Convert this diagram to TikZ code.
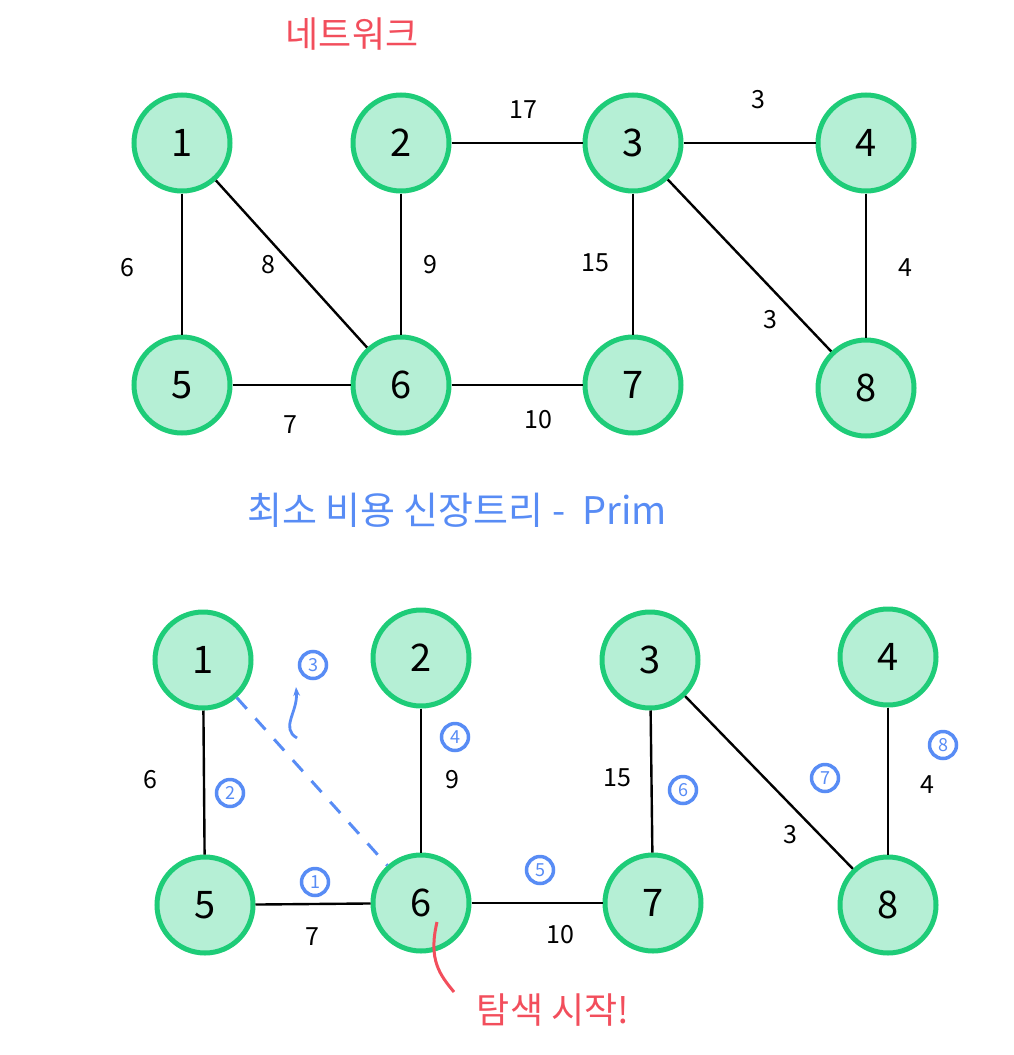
\documentclass[tikz,border=0pt]{standalone}
\usepackage{fontspec}
\newfontfamily\kor{Noto Sans CJK KR}
\usetikzlibrary{arrows.meta}

\definecolor{mint}{RGB}{181,239,213}
\definecolor{nodegreen}{RGB}{30,204,120}
\definecolor{penred}{RGB}{242,78,92}
\definecolor{penblue}{RGB}{88,140,245}

\begin{document}
\begin{tikzpicture}[x=1pt,y=-1pt,line width=2.4pt]
    \tikzstyle{vertex}=[circle,fill=mint,draw=nodegreen,line width=5pt,minimum size=96pt,inner sep=0pt,font=\kor\fontsize{38}{38}\selectfont]
    \tikzstyle{weight}=[font=\kor\fontsize{25}{25}\selectfont]
    \tikzstyle{order}=[circle,draw=penblue,text=penblue,line width=3.5pt,inner sep=0pt,minimum size=27pt,font=\kor\fontsize{18}{18}\selectfont]
    \tikzstyle{note}=[font=\kor\fontsize{36}{36}\selectfont]

    \useasboundingbox (0,0) rectangle (1014,1055);

    % Draw the network
    \node[note,text=penred] (titel) at (352,34) {네트워크};
    \foreach \name / \x / \y in {1/182/143,2/401/143,3/633/143,4/866/143,5/182/385,6/401/385,7/633/385,8/866/388}
        \node[vertex] (N-\name) at (\x,\y) {\name};

    \foreach \source / \dest in {1/5,1/6,2/6,2/3,3/4,3/7,3/8,4/8,5/6,6/7}
        \path (N-\source) edge (N-\dest);

    \foreach \name / \x / \y / \w in {15/127/268/6,16/268/265/8,26/430/265/9,23/523/110/17,34/758/100/3,37/595/263/15,38/770/320/3,48/905/268/4,56/290/425/7,67/538/420/10}
        \node[weight] (w-\name) at (\x,\y) {\w};

    % Draw the spanning tree
    \node[note,text=penblue,font=\kor\fontsize{38}{38}\selectfont] (prim) at (457,510) {최소 비용 신장트리 -\ \ Prim};
    \foreach \name / \x / \y in {1/203/660,2/421/658,3/650/660,4/888/657,5/205/905,6/421/903,7/653/903,8/888/905}
        \node[vertex] (M-\name) at (\x,\y) {\name};

    \foreach \source / \dest in {1/5,2/6,3/7,3/8,4/8,5/6,6/7}
        \path (M-\source) edge (M-\dest);
    \draw[penblue,line width=3pt,dash pattern=on 15pt off 13pt] (M-1) -- (M-6);

    \foreach \name / \x / \y / \w in {15/150/780/6,26/452/780/9,37/617/778/15,38/790/835/3,48/927/785/4,56/312/937/7,67/560/935/10}
        \node[weight] (v-\name) at (\x,\y) {\w};

    % Order of the picked edges
    \foreach \name / \x / \y in {1/315/882,2/230/793,3/313/665,4/455/737,5/540/870,6/683/790,7/825/778,8/943/745}
        \node[order] (o-\name) at (\x,\y) {\name};

    \coordinate (p-a) at (297,738);
    \coordinate (p-b) at (296,687);
    \draw[penblue,line width=2.8pt,-{Stealth[length=9pt]}] (p-a) .. controls (280,728) and (298,712) .. (p-b);

    % Starting point
    \node[note,text=penred] (start) at (553,1010) {탐색 시작!};
    \coordinate (s-a) at (437,922);
    \coordinate (s-b) at (454,992);
    \draw[penred,line width=3pt] (s-a) .. controls (428,960) and (440,975) .. (s-b);
\end{tikzpicture}
\end{document}
